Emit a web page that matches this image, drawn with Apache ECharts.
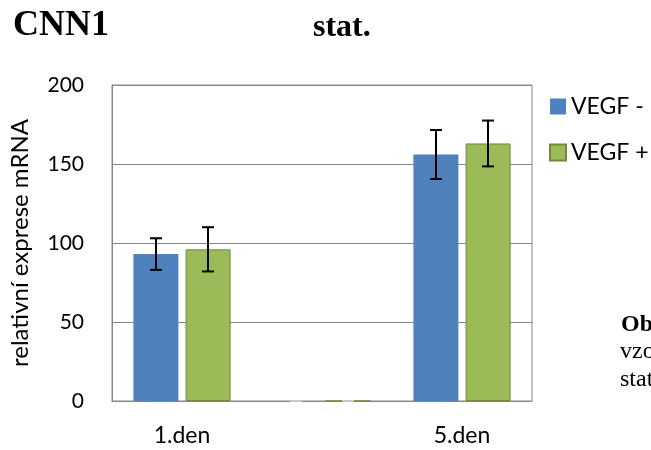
<!DOCTYPE html>
<html><head><meta charset="utf-8">
<script src="https://cdn.jsdelivr.net/npm/echarts@6/dist/echarts.min.js"></script>
<style>html,body{margin:0;padding:0;background:#fff}#c{width:651px;height:450px}</style>
</head><body><div id="c"></div>
<script>
const categories = ['1.den', '', '5.den'];
const seriesNames = ['VEGF -', 'VEGF +'];
const vegfMinus = [93, 0, 156];
const vegfPlus = [96, 0, 163];
const errMinus = [10, 0, 15.5];
const errPlus = [14, 0, 14.5];
const yTicks = { min: 0, max: 200, interval: 50 };

const chart = echarts.init(document.getElementById('c'));
const font = 'Lato, "Open Sans", sans-serif';
const serif = '"Liberation Serif", "Times New Roman", serif';

function errSeries(vals, errs, offset) {
  return {
    type: 'custom',
    silent: true,
    z: 10,
    data: vals.map((v, i) => [i, v, errs[i]]),
    renderItem: function (params, api) {
      const i = api.value(0), v = api.value(1), e = api.value(2);
      const c = api.coord([i, v]);
      const x = c[0] + offset;
      const yt = api.coord([i, v + e])[1];
      const yb = api.coord([i, v - e])[1];
      const col = e === 0 ? '#c8c8c8' : '#000';
      const st = { stroke: col, lineWidth: 2 };
      return { type: 'group', children: [
        { type: 'line', shape: { x1: x, y1: yt, x2: x, y2: yb }, style: st },
        { type: 'line', shape: { x1: x - 6, y1: yt, x2: x + 6, y2: yt }, style: st },
        { type: 'line', shape: { x1: x - 6, y1: yb, x2: x + 6, y2: yb }, style: st }
      ]};
    }
  };
}

chart.setOption({
  animation: false,
  grid: { left: 112, top: 85, right: 119, bottom: 49, show: true, borderColor: '#868686', borderWidth: 1 },
  title: [
    { text: 'CNN1', left: 8, top: 3, textStyle: { fontFamily: serif, fontWeight: 'bold', fontSize: 36, color: '#000' } },
    { text: 'stat.', left: 308, top: 7, textStyle: { fontFamily: serif, fontWeight: 'bold', fontSize: 32, color: '#000' } }
  ],
  legend: {
    orient: 'vertical', left: 549, top: 95, padding: 0, itemWidth: 16, itemHeight: 16, itemGap: 23,
    icon: 'rect', data: seriesNames,
    textStyle: { fontFamily: font, fontSize: 23, color: '#000' }
  },
  xAxis: {
    type: 'category', data: categories,
    axisLine: { lineStyle: { color: '#868686', width: 1 } },
    axisTick: { show: false },
    axisLabel: { fontFamily: font, fontSize: 23, color: '#000', margin: 23 }
  },
  yAxis: {
    type: 'value', min: yTicks.min, max: yTicks.max, interval: yTicks.interval,
    name: 'relativní exprese mRNA', nameLocation: 'middle', nameGap: 80,
    nameTextStyle: { fontFamily: font, fontSize: 24, color: '#000' },
    axisLine: { show: true, lineStyle: { color: '#868686' } },
    axisTick: { show: false },
    splitLine: { lineStyle: { color: '#868686', width: 1 } },
    axisLabel: { fontFamily: font, fontSize: 21, color: '#000', margin: 28 }
  },
  series: [
    { name: seriesNames[0], type: 'bar', data: vegfMinus, barWidth: 45, barGap: '16%',
      itemStyle: { color: '#4F81BD' } },
    { name: seriesNames[1], type: 'bar', data: vegfPlus, barWidth: 45,
      itemStyle: { color: '#9BBB59', borderColor: '#71893F', borderWidth: 1 } },
    errSeries(vegfMinus, errMinus, -26),
    errSeries(vegfPlus, errPlus, 26)
  ],
  graphic: [
    { type: 'text', left: 621, top: 313, style: { text: 'Ob', font: 'bold 24px "Liberation Serif", serif', fill: '#000' } },
    { type: 'text', left: 620, top: 340, style: { text: 'vzo', font: '24px "Liberation Serif", serif', fill: '#000' } },
    { type: 'text', left: 620, top: 368, style: { text: 'stat', font: '24px "Liberation Serif", serif', fill: '#000' } }
  ]
});
</script></body></html>
